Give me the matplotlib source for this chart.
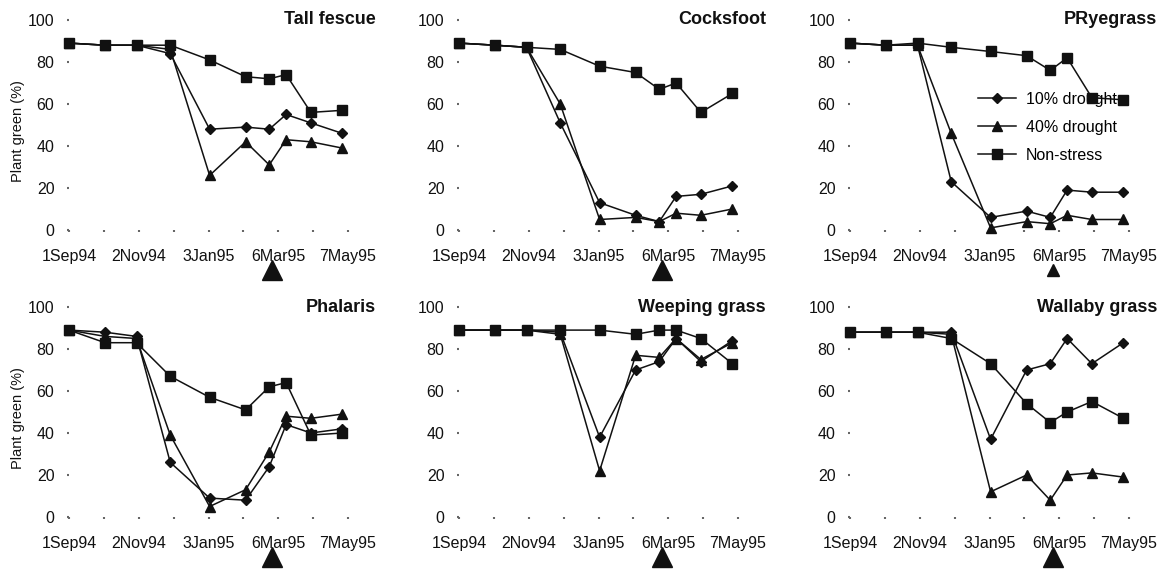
import numpy as np
import matplotlib.pyplot as plt

plt.rcParams['font.family'] = ['Liberation Sans', 'DejaVu Sans']

# Sampling dates shared by all six grasses
sampleDates = np.array(['1994-09-01', '1994-10-03', '1994-10-31', '1994-11-30',
                        '1995-01-04', '1995-02-05', '1995-02-26', '1995-03-13',
                        '1995-04-04', '1995-05-02'], dtype='datetime64[D]')
tickDates = np.array(['1994-09-01', '1994-11-02', '1995-01-03', '1995-03-06',
                      '1995-05-07'], dtype='datetime64[D]')
tickLabels = ['1Sep94', '2Nov94', '3Jan95', '6Mar95', '7May95']
rewaterDate = np.datetime64('1995-02-28')

grasses = ['Tall fescue', 'Cocksfoot', 'PRyegrass',
           'Phalaris', 'Weeping grass', 'Wallaby grass']

# Plant green (%) for each grass, same order as grasses
drought10 = [
    [89, 88, 88, 84, 48, 49, 48, 55, 51, 46],
    [89, 88, 87, 51, 13, 7, 4, 16, 17, 21],
    [89, 88, 88, 23, 6, 9, 6, 19, 18, 18],
    [89, 88, 86, 26, 9, 8, 24, 44, 40, 42],
    [89, 89, 89, 88, 38, 70, 74, 85, 74, 84],
    [88, 88, 88, 88, 37, 70, 73, 85, 73, 83],
]
drought40 = [
    [89, 88, 88, 86, 26, 42, 31, 43, 42, 39],
    [89, 88, 87, 60, 5, 6, 4, 8, 7, 10],
    [89, 88, 88, 46, 1, 4, 3, 7, 5, 5],
    [89, 86, 85, 39, 5, 13, 31, 48, 47, 49],
    [89, 89, 89, 87, 22, 77, 76, 85, 75, 83],
    [88, 88, 88, 87, 12, 20, 8, 20, 21, 19],
]
nonStress = [
    [89, 88, 88, 88, 81, 73, 72, 74, 56, 57],
    [89, 88, 87, 86, 78, 75, 67, 70, 56, 65],
    [89, 88, 89, 87, 85, 83, 76, 82, 63, 62],
    [89, 83, 83, 67, 57, 51, 62, 64, 39, 40],
    [89, 89, 89, 89, 89, 87, 89, 89, 85, 73],
    [88, 88, 88, 85, 73, 54, 45, 50, 55, 47],
]

# layout (figure fractions) and size of the rewatering arrow per panel
colLeft = [69 / 1173, 459 / 1173, 850 / 1173]
rowBottom = [1 - 230 / 570, 1 - 517 / 570]
axWidth = 279 / 1173
axHeight = 210 / 570
arrowSize = [15, 15, 9, 15, 14, 15]

INK = '#111111'

fig = plt.figure(figsize=(11.73, 5.70), dpi=100)

for i, name in enumerate(grasses):
    row, col = divmod(i, 3)
    ax = fig.add_axes([colLeft[col], rowBottom[row], axWidth, axHeight])

    l10, = ax.plot(sampleDates, drought10[i], color=INK, lw=1.1, marker='D',
                   ms=5.2, clip_on=False, zorder=3, label='10% drought')
    l40, = ax.plot(sampleDates, drought40[i], color=INK, lw=1.1, marker='^',
                   ms=6.8, clip_on=False, zorder=3, label='40% drought')
    lns, = ax.plot(sampleDates, nonStress[i], color=INK, lw=1.1, marker='s',
                   ms=7, clip_on=False, zorder=3, label='Non-stress')

    ax.set_xlim(tickDates[0], tickDates[-1])
    ax.set_ylim(0, 100)
    for s in ax.spines.values():
        s.set_visible(False)

    ax.set_xticks(tickDates)
    ax.set_xticklabels(tickLabels)
    ax.set_xticks(np.arange(tickDates[0], tickDates[-1] + 1, 31), minor=True)
    ax.set_yticks(np.arange(0, 101, 20))
    ax.tick_params(axis='both', which='both', length=1.5, width=1.5,
                   color='#666666', labelsize=11.5, labelcolor=INK)
    ax.tick_params(axis='x', pad=12)
    ax.tick_params(axis='y', pad=9)

    ax.text(1.1, 1.0, name, transform=ax.transAxes, ha='right', va='center',
            fontsize=13, fontweight='bold', color=INK)

    # rewatering date marked under the date axis
    ax.plot([rewaterDate], [-0.19], marker='^', ms=arrowSize[i], color=INK,
            transform=ax.get_xaxis_transform(), clip_on=False)

    if col == 0:
        ax.set_ylabel('Plant green (%)', fontsize=10.5, color=INK)
        ax.yaxis.set_label_coords(-0.158, 0.47)

    if name == 'PRyegrass':
        leg = ax.legend(handles=[l10, l40, lns], loc='upper left',
                        bbox_to_anchor=(0.43, 0.695), frameon=False,
                        borderpad=0, handlelength=2.4, handletextpad=0.6,
                        labelspacing=0.8, fontsize=11.5)
        leg.set_zorder(1)

plt.savefig('out.png', dpi=100)
